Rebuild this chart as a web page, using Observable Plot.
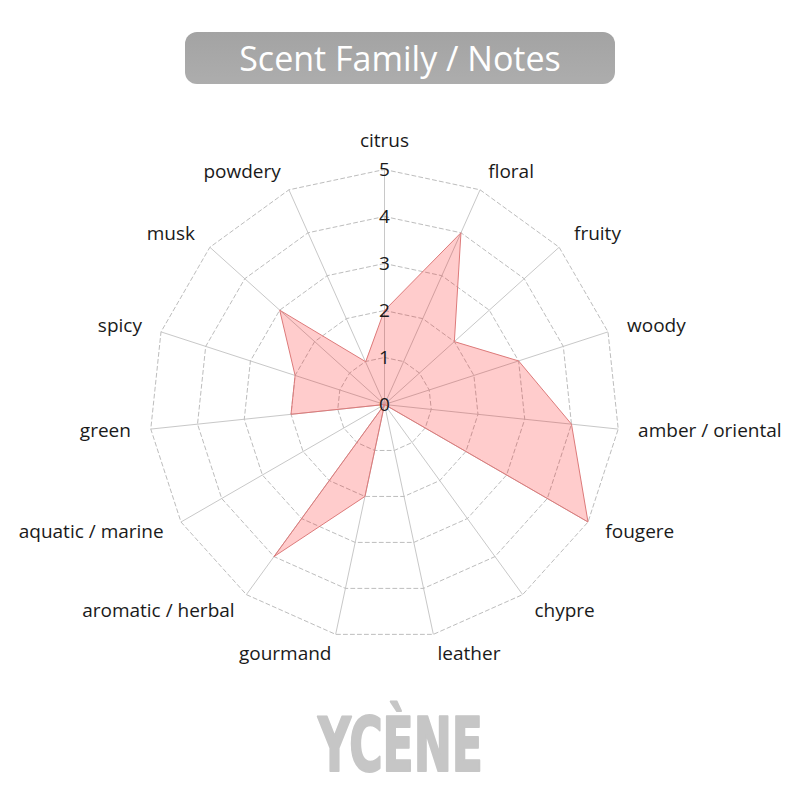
<!DOCTYPE html>
<html>
<head>
<meta charset="utf-8">
<script src="https://cdn.jsdelivr.net/npm/d3@7"></script>
<script src="https://cdn.jsdelivr.net/npm/@observablehq/plot@0.6"></script>
<style>
  html, body { margin: 0; padding: 0; background: #fff; }
  body { width: 800px; height: 800px; overflow: hidden; font-family: "Open Sans", sans-serif; }
  #head { position: relative; height: 100px; }
  #titlebox { position: absolute; left: 185px; top: 32px; width: 430px; height: 52px;
    border-radius: 12px; background: linear-gradient(#a3a3a3, #adadad);
    color: #fff; font-size: 34px; line-height: 52px; text-align: center; }
  #chart svg { display: block; }
  #logo { display: block; }
</style>
</head>
<body>
<div id="head"><div id="titlebox">Scent Family / Notes</div></div>
<div id="chart"></div>
<svg id="logo" width="800" height="100">
  <text x="318" y="71" textLength="165" lengthAdjust="spacingAndGlyphs"
    font-family="DejaVu Sans Condensed, DejaVu Sans, sans-serif" font-weight="bold"
    font-size="75" fill="#c6c6c6" stroke="#c6c6c6" stroke-width="2.2" stroke-linejoin="round">YCÈNE</text>
</svg>
<script>
const categories = ["citrus", "floral", "fruity", "woody", "amber / oriental", "fougere", "chypre",
  "leather", "gourmand", "aromatic / herbal", "aquatic / marine", "green", "spicy", "musk", "powdery"];
const values = [2, 4, 2, 3, 4, 5, 0, 0, 2, 4, 0, 2, 2, 3, 1];
const levels = [1, 2, 3, 4, 5];
const tickLabels = [0, 1, 2, 3, 4, 5];

const n = categories.length;
const maxLevel = 5;
const ang = i => 2 * Math.PI * i / n;
const W = 800, H = 600, cx = 384, cy = 304, unit = 47;
const labelR = 255 / unit;

const gridRows = levels.flatMap(l => categories.map((c, i) => ({level: l, i})));
const dataRows = categories.map((c, i) => ({cat: c, i, v: values[i]}));
const labelRows = categories.map((c, i) => ({cat: c, i, s: Math.sin(ang(i))}));

const lx = d => labelR * Math.sin(ang(d.i));
const ly = d => labelR * Math.cos(ang(d.i));
const font = "Open Sans";

const chart = Plot.plot({
  width: W, height: H,
  margin: 0,
  x: {domain: [-cx / unit, (W - cx) / unit], axis: null},
  y: {domain: [-(H - cy) / unit, cy / unit], axis: null},
  style: {fontFamily: font, background: "transparent"},
  marks: [
    Plot.link(categories, {
      x1: 0, y1: 0,
      x2: (d, i) => maxLevel * Math.sin(ang(i)),
      y2: (d, i) => maxLevel * Math.cos(ang(i)),
      stroke: "#c8c8c8", strokeWidth: 1
    }),
    Plot.line(gridRows, {
      x: d => d.level * Math.sin(ang(d.i)),
      y: d => d.level * Math.cos(ang(d.i)),
      z: "level", curve: "linear-closed",
      stroke: "#bdbdbd", strokeWidth: 1, strokeDasharray: "4,3"
    }),
    Plot.line(dataRows, {
      x: d => d.v * Math.sin(ang(d.i)),
      y: d => d.v * Math.cos(ang(d.i)),
      curve: "linear-closed",
      fill: "rgb(255,0,0)", fillOpacity: 0.2,
      stroke: "#dd7a7a", strokeWidth: 1
    }),
    Plot.text(tickLabels, {
      x: 0, y: d => d, text: d => String(d),
      fontSize: 19, fill: "#1a1a1a", fontFamily: font
    }),
    Plot.text(labelRows.filter(d => d.s > 0.1), {
      x: lx, y: ly, text: "cat", textAnchor: "start",
      fontSize: 19, fill: "#1a1a1a", fontFamily: font
    }),
    Plot.text(labelRows.filter(d => d.s < -0.1), {
      x: lx, y: ly, text: "cat", textAnchor: "end",
      fontSize: 19, fill: "#1a1a1a", fontFamily: font
    }),
    Plot.text(labelRows.filter(d => Math.abs(d.s) <= 0.1), {
      x: lx, y: ly, text: "cat", textAnchor: "middle",
      lineAnchor: "bottom", dy: -3,
      fontSize: 19, fill: "#1a1a1a", fontFamily: font
    })
  ]
});
document.getElementById("chart").appendChild(chart);
</script>
</body>
</html>
